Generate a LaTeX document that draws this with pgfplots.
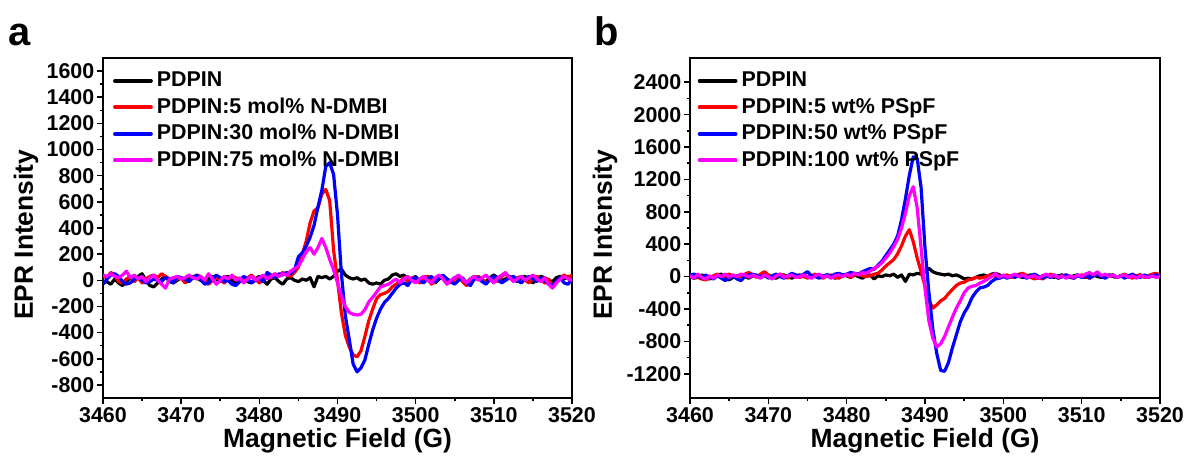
\documentclass[border=0pt]{standalone}
\usepackage{fontspec}
\setmainfont{Liberation Sans}
\usepackage{pgfplots}
\pgfplotsset{compat=1.18}
\usepackage{pgfplotstable}

\pgfplotstableread{
B k r b m
3460.0 -20 30 -30 40
3460.5 -10 20 10 30
3461.0 -30 60 40 50
3461.5 10 40 50 30
3462.0 -20 -10 30 20
3462.5 -40 -20 -10 40
3463.0 -10 10 -30 70
3463.5 20 30 -20 20
3464.0 10 -10 10 40
3464.5 30 20 20 10
3465.0 50 -20 0 30
3465.5 0 10 -20 -10
3466.0 -40 30 -10 20
3466.5 -50 40 10 40
3467.0 -20 20 0 0
3467.5 10 50 -10 -30
3468.0 30 30 20 -60
3468.5 -10 10 10 10
3469.0 -20 -10 -20 20
3469.5 0 10 30 30
3470.0 20 20 20 10
3470.5 -10 -20 10 20
3471.0 10 0 -10 40
3471.5 30 20 20 20
3472.0 20 40 40 10
3472.5 0 30 10 30
3473.0 -20 -10 -30 0
3473.5 10 -30 -20 50
3474.0 30 0 10 10
3474.5 10 20 40 -30
3475.0 -10 10 20 0
3475.5 20 -20 -10 30
3476.0 30 10 0 10
3476.5 0 30 -30 40
3477.0 -20 20 -40 0
3477.5 10 -10 -10 20
3478.0 20 0 30 -20
3478.5 -10 20 10 10
3479.0 -20 40 -20 30
3479.5 10 10 0 0
3480.0 30 -20 20 20
3480.5 0 10 -10 40
3481.0 -30 30 60 10
3481.5 10 20 40 30
3482.0 20 50 20 50
3482.5 -10 30 50 30
3483.0 -30 60 40 50
3483.5 10 40 60 40
3484.0 20 30 50 70
3484.5 0 60 80 90
3485.0 -10 100 180 110
3485.5 10 200 210 160
3486.0 0 300 260 220
3486.5 20 440 330 250
3487.0 -50 530 420 200
3487.5 30 555 560 250
3488.0 20 660 690 320
3488.5 30 695 870 250
3489.0 10 610 900 160
3489.5 30 230 810 80
3490.0 70 0 500 -20
3490.5 85 -250 50 -120
3491.0 40 -420 -270 -200
3491.5 20 -510 -450 -245
3492.0 10 -570 -640 -260
3492.5 20 -585 -700 -265
3493.0 0 -540 -670 -260
3493.5 10 -430 -610 -225
3494.0 -20 -310 -490 -165
3494.5 -30 -220 -380 -130
3495.0 -20 -140 -290 -90
3495.5 -30 -110 -220 -50
3496.0 0 -100 -170 -40
3496.5 10 -85 -140 -30
3497.0 40 -50 -100 -10
3497.5 50 -30 -60 10
3498.0 30 -10 -30 -20
3498.5 40 20 -20 10
3499.0 0 -10 -40 30
3499.5 10 20 10 0
3500.0 30 10 20 -20
3500.5 -10 -20 0 10
3501.0 20 10 -20 30
3501.5 30 30 10 0
3502.0 0 -30 30 -20
3502.5 -20 -10 -10 20
3503.0 10 20 20 40
3503.5 30 30 40 10
3504.0 10 0 10 -30
3504.5 -10 -20 -10 0
3505.0 20 10 -30 20
3505.5 30 30 0 40
3506.0 0 -10 20 10
3506.5 -20 -40 -20 -20
3507.0 10 -20 -40 10
3507.5 30 10 10 30
3508.0 20 30 20 0
3508.5 0 10 -10 20
3509.0 -10 -20 -30 40
3509.5 20 0 10 10
3510.0 40 20 30 -20
3510.5 20 -10 10 20
3511.0 0 30 -20 40
3511.5 10 50 0 60
3512.0 30 20 20 20
3512.5 10 0 30 -10
3513.0 -10 20 0 10
3513.5 20 30 -20 30
3514.0 30 0 10 0
3514.5 0 -20 30 20
3515.0 -20 10 10 40
3515.5 10 30 -10 10
3516.0 30 10 20 -10
3516.5 20 -20 0 20
3517.0 0 10 -30 -30
3517.5 -10 -40 -40 -60
3518.0 20 -20 -10 -20
3518.5 30 20 20 10
3519.0 10 40 -20 30
3519.5 30 20 -30 10
3520.0 20 40 10 0
}\dataA

\pgfplotstableread{
B k r b m
3460.0 0 10 20 10
3460.5 -20 20 30 -20
3461.0 -10 -10 10 30
3461.5 20 -30 -20 -10
3462.0 0 -40 20 -30
3462.5 -30 -20 -10 10
3463.0 -10 10 -30 -20
3463.5 20 30 10 20
3464.0 30 -10 -20 0
3464.5 -20 10 -50 30
3465.0 -40 30 -20 -10
3465.5 -10 10 10 20
3466.0 10 -20 -30 0
3466.5 20 10 -50 30
3467.0 0 30 0 20
3467.5 -20 50 20 -10
3468.0 10 20 30 20
3468.5 20 -10 10 0
3469.0 -10 30 0 -20
3469.5 10 60 20 20
3470.0 20 20 -20 0
3470.5 -10 -10 10 -30
3471.0 -20 10 30 10
3471.5 10 30 0 30
3472.0 20 10 -20 -10
3472.5 0 -20 10 10
3473.0 -20 30 40 20
3473.5 10 20 20 -10
3474.0 20 -10 0 0
3474.5 0 10 30 20
3475.0 -10 -20 60 0
3475.5 10 10 10 -20
3476.0 20 30 0 10
3476.5 -10 0 -20 30
3477.0 0 -20 10 -10
3477.5 20 10 20 10
3478.0 10 20 0 -20
3478.5 -20 -10 30 10
3479.0 0 -20 40 20
3479.5 20 10 20 0
3480.0 10 20 30 30
3480.5 -10 -10 50 10
3481.0 20 20 40 40
3481.5 0 30 30 20
3482.0 -20 10 60 50
3482.5 10 0 80 40
3483.0 20 10 100 70
3483.5 -30 30 90 100
3484.0 10 40 140 130
3484.5 0 80 190 170
3485.0 20 130 260 230
3485.5 10 170 330 290
3486.0 30 210 400 370
3486.5 -10 280 500 460
3487.0 20 380 700 600
3487.5 -60 500 960 780
3488.0 30 580 1250 1000
3488.5 20 430 1480 1110
3489.0 40 230 1460 850
3489.5 30 60 1100 350
3490.0 60 -120 350 -150
3490.5 100 -290 -200 -550
3491.0 60 -390 -650 -760
3491.5 40 -350 -950 -870
3492.0 30 -300 -1160 -830
3492.5 20 -270 -1170 -740
3493.0 30 -210 -1060 -620
3493.5 10 -160 -880 -500
3494.0 20 -110 -720 -390
3494.5 0 -80 -560 -300
3495.0 -30 -70 -450 -200
3495.5 -20 -40 -370 -140
3496.0 -30 -30 -260 -120
3496.5 -10 -10 -190 -110
3497.0 10 -20 -140 -80
3497.5 20 -10 -130 -60
3498.0 0 10 -110 -30
3498.5 30 20 -60 0
3499.0 40 0 -30 40
3499.5 20 -20 -20 -10
3500.0 0 10 0 20
3500.5 -10 20 -20 -10
3501.0 10 -10 10 10
3501.5 20 0 -10 30
3502.0 0 30 20 0
3502.5 -10 40 0 20
3503.0 10 10 -20 -10
3503.5 20 -10 10 0
3504.0 0 -30 30 10
3504.5 -20 -10 0 -20
3505.0 10 -30 -20 10
3505.5 20 0 10 30
3506.0 0 30 -10 0
3506.5 -10 10 20 20
3507.0 10 -20 -20 -10
3507.5 20 0 0 10
3508.0 0 20 20 -20
3508.5 -10 -10 0 10
3509.0 10 -20 -20 -10
3509.5 20 10 10 20
3510.0 0 20 -10 0
3510.5 -10 0 20 30
3511.0 10 -20 -20 50
3511.5 20 10 10 20
3512.0 0 30 30 60
3512.5 -10 10 0 10
3513.0 10 -10 -20 30
3513.5 20 10 10 0
3514.0 0 20 20 20
3514.5 -10 -10 -10 -10
3515.0 10 10 10 10
3515.5 20 30 -20 20
3516.0 0 0 10 -10
3516.5 -10 -20 30 10
3517.0 10 10 0 -20
3517.5 20 20 -10 10
3518.0 0 -10 20 0
3518.5 -10 10 0 -10
3519.0 10 30 10 10
3519.5 20 40 20 -10
3520.0 0 20 0 0
}\dataB

\definecolor{cK}{RGB}{0,0,0}
\definecolor{cR}{RGB}{255,0,0}
\definecolor{cB}{RGB}{0,0,255}
\definecolor{cM}{RGB}{255,0,255}

\pgfplotsset{
  eprstyle/.style={
    scale only axis, width=469bp, height=340bp,
    xmin=3460, xmax=3520, xtick={3460,3470,...,3520}, minor x tick num=1,
    minor y tick num=1,
    tick align=outside, tick pos=left,
    major tick length=6bp, minor tick length=3.5bp,
    axis line style={line width=1.8bp},
    every tick/.style={line width=1.6bp, black},
    tick label style={font=\fontsize{21.5}{25}\selectfont\bfseries},
    xticklabel style={inner sep=3bp},
    yticklabel style={inner sep=2.5bp},
    /pgf/number format/assume math mode=true,
    /pgf/number format/set thousands separator={},
    xlabel={Magnetic Field (G)}, ylabel={EPR Intensity},
    label style={font=\fontsize{26.5}{30}\selectfont\bfseries},
    xlabel style={at={(axis description cs:0.5,-0.127)}, anchor=center},
    legend style={draw=none, fill=none, font=\fontsize{21.5}{25}\selectfont\bfseries,
      anchor=north west, row sep=7bp, column sep=4bp, inner sep=0pt,
      nodes={inner sep=0pt, text height=15.5bp, text depth=4bp}},
    legend cell align=left,
    legend image code/.code={\draw[line width=3.8bp] (0bp,0bp) -- (36bp,0bp);},
    every axis plot/.append style={line width=3.2bp, line join=round, line cap=round, no markers},
  }
}

\begin{document}
\begin{tikzpicture}
\useasboundingbox (0,0) rectangle (1192bp,462bp);
\node[anchor=base west, inner sep=0pt, font=\fontsize{40}{44}\selectfont\bfseries] at (8bp,416bp) {a};
\node[anchor=base west, inner sep=0pt, font=\fontsize{40}{44}\selectfont\bfseries] at (594bp,416bp) {b};

\begin{axis}[eprstyle, at={(103bp,64bp)}, anchor=south west,
  ymin=-900, ymax=1700, ytick={-800,-600,...,1600},
  ylabel style={at={(axis description cs:-0.164,0.48)}, anchor=center},
  legend style={at={(axis description cs:0.021,0.962)}}]
\addplot[cK] table[x=B,y=k] {\dataA};
\addplot[cR] table[x=B,y=r] {\dataA};
\addplot[cB] table[x=B,y=b] {\dataA};
\addplot[cM] table[x=B,y=m] {\dataA};
\legend{PDPIN, PDPIN:5 mol\% N-DMBI, PDPIN:30 mol\% N-DMBI, PDPIN:75 mol\% N-DMBI}
\end{axis}

\begin{axis}[eprstyle, at={(690bp,64bp)}, anchor=south west, width=470bp,
  ymin=-1500, ymax=2700, ytick={-1200,-800,...,2400},
  ylabel style={at={(axis description cs:-0.181,0.48)}, anchor=center},
  legend style={at={(axis description cs:0.016,0.962)}}]
\addplot[cK] table[x=B,y=k] {\dataB};
\addplot[cR] table[x=B,y=r] {\dataB};
\addplot[cB] table[x=B,y=b] {\dataB};
\addplot[cM] table[x=B,y=m] {\dataB};
\legend{PDPIN, PDPIN:5 wt\% PSpF, PDPIN:50 wt\% PSpF, PDPIN:100 wt\% PSpF}
\end{axis}
\end{tikzpicture}
\end{document}
